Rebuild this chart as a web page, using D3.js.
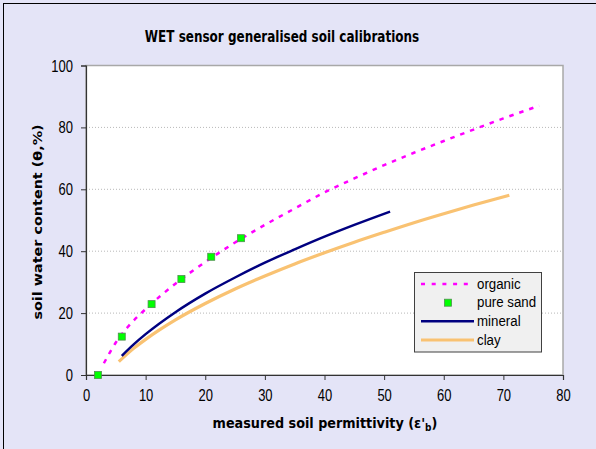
<!DOCTYPE html>
<html>
<head>
<meta charset="utf-8">
<script src="https://cdn.jsdelivr.net/npm/d3@7"></script>
<style>
  html, body { margin: 0; padding: 0; background: #e4e4f7; }
  svg { display: block; }
</style>
</head>
<body>
<svg id="chart" width="596" height="449"></svg>
<script>
// ---- data ----
const organicX = [3, 5, 7, 10, 15, 20, 25, 30, 35, 40, 45, 50, 55, 60, 65, 70, 76];
const organicY = [3.8, 10.5, 15.5, 21.3, 29.5, 36.5, 42.8, 48.5, 53.8, 59.0, 63.5, 67.8, 71.8, 75.6, 79.3, 82.9, 87.0];

const sandX = [2, 6, 11, 16, 21, 26];
const sandY = [0, 12.4, 22.9, 31.0, 38.2, 44.2];

const mineralX = [6, 8, 10, 15, 20, 25, 30, 35, 40, 45, 51];
const mineralY = [6.2, 9.9, 13.2, 20.3, 26.3, 31.5, 36.3, 40.6, 44.7, 48.5, 52.8];

const clayX = [5.5, 8, 10, 15, 20, 25, 30, 35, 40, 45, 50, 55, 60, 65, 71];
const clayY = [4.3, 8.6, 11.5, 17.8, 23.1, 27.8, 32.0, 35.9, 39.5, 42.9, 46.1, 49.2, 52.1, 54.9, 58.1];

const xTicks = [0, 10, 20, 30, 40, 50, 60, 70, 80];
const yTicks = [0, 20, 40, 60, 80, 100];
const gridY = [20, 40, 60, 80];

const titleText = "WET sensor generalised soil calibrations";
const yTitle = "soil water content (\u03b8,%)";
const legendNames = ["organic", "pure sand", "mineral", "clay"];

// ---- layout ----
const svg = d3.select("#chart");
const L = 86, R = 563, T = 65.5, B = 375;
const x = d3.scaleLinear().domain([0, 80]).range([L, R]);
const y = d3.scaleLinear().domain([0, 100]).range([B, T]);

// background + outer border
svg.append("rect").attr("x", 0).attr("y", 0).attr("width", 596).attr("height", 449).attr("fill", "#e4e4f7");
svg.append("rect").attr("x", 3.5).attr("y", 3.5).attr("width", 700).attr("height", 600)
  .attr("fill", "none").attr("stroke", "#000").attr("stroke-width", 1);

// plot area
svg.append("rect").attr("x", L).attr("y", T).attr("width", R - L).attr("height", B - T)
  .attr("fill", "#fff").attr("stroke", "#a8a8a8").attr("stroke-width", 1.5);

// grid
svg.append("g").selectAll("line").data(gridY).join("line")
  .attr("x1", L).attr("x2", R).attr("y1", d => y(d)).attr("y2", d => y(d))
  .attr("stroke", "#b8b8b8").attr("stroke-width", 1).attr("stroke-dasharray", "1,2");

// title
svg.append("text").attr("transform", "translate(282,42) scale(1,1.25)")
  .attr("text-anchor", "middle").attr("font-family", "DejaVu Sans").attr("font-weight", "bold")
  .attr("font-size", 12).attr("fill", "#000").text(titleText);

// axes
const axisFont = "Liberation Sans, Arial, sans-serif";
const gx = svg.append("g").attr("transform", `translate(0,${B})`)
  .call(d3.axisBottom(x).tickValues(xTicks).tickSize(5).tickFormat(d3.format("d")));
gx.selectAll("text").attr("y", 0).attr("dy", 0)
  .attr("transform", "translate(0,25.5) scale(1,1.2)")
  .attr("font-family", axisFont).attr("font-size", 13).attr("fill", "#000");

const gy = svg.append("g").attr("transform", `translate(${L},0)`)
  .call(d3.axisLeft(y).tickValues(yTicks).tickSize(5).tickFormat(d3.format("d")));
gy.selectAll("text").attr("x", 0).attr("dy", 0)
  .attr("transform", "translate(-13,5.5) scale(1,1.2)")
  .attr("font-family", axisFont).attr("font-size", 13).attr("fill", "#000");

[gx, gy].forEach(g => {
  g.select(".domain").attr("stroke", "#333").attr("stroke-width", 1.2);
  g.selectAll(".tick line").attr("stroke", "#333");
});

// axis titles
const xt = svg.append("text").attr("transform", "translate(325,428) scale(1,1.15)")
  .attr("text-anchor", "middle").attr("font-family", "DejaVu Sans").attr("font-weight", "bold")
  .attr("font-size", 12.8).attr("fill", "#000");
xt.append("tspan").text("measured soil permittivity (\u03b5'");
xt.append("tspan").attr("font-size", 9).attr("dy", 3).text("b");
xt.append("tspan").attr("dy", -3).text(")");

svg.append("text").attr("transform", "translate(42,222) rotate(-90) scale(1.15,1)")
  .attr("text-anchor", "middle").attr("font-family", "DejaVu Sans").attr("font-weight", "bold")
  .attr("font-size", 12.5).attr("fill", "#000").text(yTitle);

// series
const line = d3.line().x(d => x(d[0])).y(d => y(d[1])).curve(d3.curveMonotoneX);
const plot = svg.append("g");

plot.append("path").datum(d3.zip(clayX, clayY)).attr("d", line)
  .attr("fill", "none").attr("stroke", "#f9c272").attr("stroke-width", 3.2);
plot.append("path").datum(d3.zip(mineralX, mineralY)).attr("d", line)
  .attr("fill", "none").attr("stroke", "#000080").attr("stroke-width", 2.5);
plot.append("path").datum(d3.zip(organicX, organicY)).attr("d", line)
  .attr("fill", "none").attr("stroke", "#ff00ff").attr("stroke-width", 2.5)
  .attr("stroke-dasharray", "4.5,6");
plot.append("g").selectAll("rect").data(d3.zip(sandX, sandY)).join("rect")
  .attr("x", d => x(d[0]) - 3.5).attr("y", d => y(d[1]) - 3.5)
  .attr("width", 7).attr("height", 7)
  .attr("fill", "#00ff00").attr("stroke", "#4f8f4f").attr("stroke-width", 0.8);

// legend
const lg = svg.append("g");
lg.append("rect").attr("x", 414.5).attr("y", 272.5).attr("width", 127).attr("height", 79.5)
  .attr("fill", "#f0f0f0").attr("stroke", "#404040").attr("stroke-width", 1);
const rowsY = [284, 302.7, 321.3, 340];
legendNames.forEach((name, i) => {
  const yy = rowsY[i];
  if (i === 0) {
    lg.append("line").attr("x1", 421).attr("x2", 474).attr("y1", yy).attr("y2", yy)
      .attr("stroke", "#ff00ff").attr("stroke-width", 2.5).attr("stroke-dasharray", "4,6.7");
  } else if (i === 1) {
    lg.append("rect").attr("x", 444.5).attr("y", yy - 3.5).attr("width", 7).attr("height", 7)
      .attr("fill", "#00ff00").attr("stroke", "#4f8f4f").attr("stroke-width", 0.8);
  } else if (i === 2) {
    lg.append("line").attr("x1", 421).attr("x2", 474).attr("y1", yy).attr("y2", yy)
      .attr("stroke", "#000080").attr("stroke-width", 2.5);
  } else {
    lg.append("line").attr("x1", 421).attr("x2", 474).attr("y1", yy).attr("y2", yy)
      .attr("stroke", "#f9c272").attr("stroke-width", 3.2);
  }
  lg.append("text").attr("transform", `translate(477,${yy + 4.5}) scale(1,1.15)`)
    .attr("font-family", axisFont).attr("font-size", 13.3).attr("fill", "#000").text(name);
});
</script>
</body>
</html>
